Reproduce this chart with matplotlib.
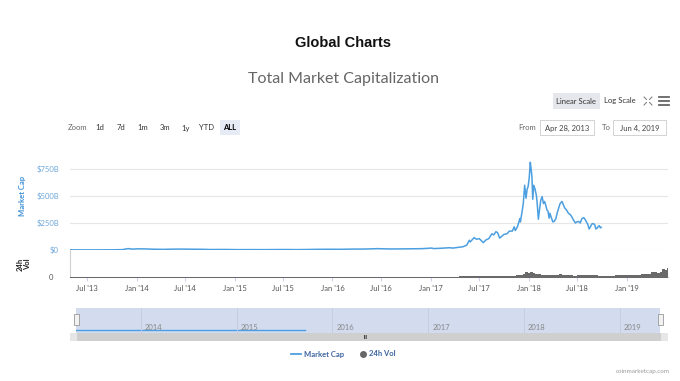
import numpy as np
import matplotlib
matplotlib.use("Agg")
from matplotlib import pyplot as plt
from matplotlib.patches import Rectangle
import matplotlib.dates as mdates

# market cap, billions USD
mcap_dates = [
    '2013-04-28', '2013-06-01', '2013-07-05', '2013-08-15', '2013-10-01',
    '2013-11-10', '2013-11-30', '2013-12-18', '2014-01-05', '2014-02-10',
    '2014-03-01', '2014-04-10', '2014-06-01', '2014-07-01', '2014-09-01',
    '2014-10-05', '2014-12-01', '2015-01-14', '2015-03-01', '2015-04-15',
    '2015-07-01', '2015-08-25', '2015-11-04', '2015-12-15', '2016-02-01',
    '2016-03-15', '2016-05-01', '2016-06-17', '2016-08-02', '2016-10-01',
    '2016-12-01', '2017-01-04', '2017-01-12', '2017-02-15', '2017-03-10',
    '2017-03-25', '2017-04-15', '2017-05-01', '2017-05-15', '2017-05-25',
    '2017-05-28', '2017-06-12', '2017-06-20', '2017-07-01', '2017-07-16',
    '2017-07-25', '2017-08-05', '2017-08-17', '2017-08-24', '2017-09-01',
    '2017-09-07', '2017-09-15', '2017-09-25', '2017-10-01', '2017-10-12',
    '2017-10-21', '2017-11-01', '2017-11-08', '2017-11-12', '2017-11-20',
    '2017-11-29', '2017-12-01', '2017-12-07', '2017-12-12', '2017-12-17',
    '2017-12-22', '2017-12-26', '2017-12-30', '2018-01-03', '2018-01-07',
    '2018-01-10', '2018-01-13', '2018-01-16', '2018-01-20', '2018-01-25',
    '2018-01-30', '2018-02-02', '2018-02-06', '2018-02-10', '2018-02-15',
    '2018-02-20', '2018-02-25', '2018-03-01', '2018-03-05', '2018-03-10',
    '2018-03-14', '2018-03-18', '2018-03-21', '2018-03-25', '2018-04-01',
    '2018-04-06', '2018-04-12', '2018-04-18', '2018-04-24', '2018-04-28',
    '2018-05-05', '2018-05-10', '2018-05-15', '2018-05-22', '2018-05-29',
    '2018-06-04', '2018-06-10', '2018-06-15', '2018-06-24', '2018-06-29',
    '2018-07-06', '2018-07-12', '2018-07-18', '2018-07-25', '2018-07-31',
    '2018-08-04', '2018-08-09', '2018-08-14', '2018-08-18', '2018-08-24',
    '2018-08-29', '2018-09-04', '2018-09-08', '2018-09-12', '2018-09-16',
    '2018-09-21', '2018-09-25', '2018-09-28',
]
mcap_values = [
    1.5, 1.4, 1.0, 1.3, 1.7,
    3.5, 13, 8, 11, 9.5,
    7.5, 6, 8.5, 8, 6.5,
    4.5, 5, 3.3, 3.8, 3.3,
    4.5, 3.6, 6.2, 6.8, 6.5,
    8.4, 8.8, 12.5, 9.5, 10.5,
    12.5, 18, 13, 17, 21,
    18, 25, 30, 45, 90,
    75, 115, 100, 105, 68,
    92, 105, 150, 140, 170,
    160, 110, 132, 145, 150,
    175, 175, 215, 180, 215,
    290, 260, 350, 435, 600,
    480, 560, 590, 670, 813,
    750, 680, 470, 600, 560,
    500, 420, 285, 370, 460,
    495, 430, 450, 420, 370,
    360, 295, 340, 310, 260,
    265, 290, 350, 400, 430,
    450, 420, 390, 370, 340,
    330, 310, 285, 250, 260,
    265, 250, 290, 300, 280,
    260, 240, 195, 210, 240,
    245, 235, 195, 200, 215,
    225, 205, 210,
]

# 24h volume, billions USD
vol_dates = [
    '2013-04-28', '2014-01-01', '2015-01-01', '2016-01-01', '2017-01-01',
    '2017-03-15', '2017-04-01', '2017-04-15', '2017-05-01', '2017-05-15',
    '2017-06-01', '2017-06-15', '2017-07-01', '2017-07-15', '2017-08-01',
    '2017-08-15', '2017-09-01', '2017-09-15', '2017-10-01', '2017-10-15',
    '2017-11-01', '2017-11-15', '2017-12-01', '2017-12-10', '2017-12-20',
    '2017-12-28', '2018-01-05', '2018-01-12', '2018-01-18', '2018-01-25',
    '2018-02-01', '2018-02-08', '2018-02-15', '2018-02-25', '2018-03-05',
    '2018-03-15', '2018-04-01', '2018-04-15', '2018-04-25', '2018-05-05',
    '2018-05-15', '2018-06-01', '2018-06-15', '2018-07-01', '2018-07-15',
    '2018-07-25', '2018-08-05', '2018-08-15', '2018-09-01', '2018-09-15',
    '2018-10-01', '2018-10-15', '2018-11-01', '2018-11-20', '2018-12-01',
    '2018-12-15', '2019-01-01', '2019-01-15', '2019-02-01', '2019-02-15',
    '2019-02-25', '2019-03-10', '2019-03-20', '2019-04-03', '2019-04-12',
    '2019-04-25', '2019-05-05', '2019-05-12', '2019-05-18', '2019-05-25',
    '2019-06-01', '2019-06-04',
]
vol_values = [
    0.05, 0.1, 0.05, 0.1, 0.3,
    0.6, 0.8, 1.0, 1.5, 2.5,
    4, 4.5, 3.5, 3, 4,
    6, 7, 6, 5, 7,
    9, 13, 20, 30, 45,
    38, 50, 42, 35, 28,
    24, 26, 18, 15, 14,
    13, 11, 14, 22, 20,
    14, 12, 10, 11, 12,
    18, 13, 11, 12, 10,
    9, 9, 10, 15, 13,
    12, 13, 13, 14, 18,
    25, 22, 24, 45, 42,
    40, 48, 75, 80, 65,
    90, 70,
]

y_ticks = [0, 250, 500, 750]
y_labels = ['$0', '$250B', '$500B', '$750B']
nav_years = ['2014', '2015', '2016', '2017', '2018', '2019']
zoom_buttons = ['1d', '7d', '1m', '3m', '1y', 'YTD', 'ALL']

W, H = 680, 381
BLUE = '#4c9fe0'
FONT = 'Lato'


def rect(x0, y0, x1, y1):
    return [x0 / W, 1 - y1 / H, (x1 - x0) / W, (y1 - y0) / H]


def txt(x, y, s, **kw):
    kw.setdefault('family', FONT)
    kw.setdefault('fontsize', 5.5)
    kw.setdefault('color', '#555555')
    kw.setdefault('va', 'center')
    fig.text(x / W, 1 - y / H, s, **kw)


def box(x0, y0, x1, y1, fc, ec='none', lw=0.6):
    fig.add_artist(Rectangle((x0 / W, 1 - y1 / H), (x1 - x0) / W, (y1 - y0) / H,
                             transform=fig.transFigure, fc=fc, ec=ec, lw=lw))


def line(xs, ys, color, lw=1.0, **kw):
    fig.add_artist(plt.Line2D([x / W for x in xs], [1 - y / H for y in ys],
                              transform=fig.transFigure, color=color, lw=lw, **kw))


mnum = mdates.date2num(np.array(mcap_dates, dtype='datetime64[D]'))
vnum = mdates.date2num(np.array(vol_dates, dtype='datetime64[D]'))
x_start = mdates.date2num(np.datetime64('2013-04-28'))
x_end = mdates.date2num(np.datetime64('2019-06-04'))

fig = plt.figure(figsize=(6.8, 3.81), dpi=100)

# titles
txt(343, 43, 'Global Charts', family='Liberation Sans', fontsize=10.5,
    weight='bold', color='#111111', ha='center')
txt(344, 79, 'Total Market Capitalization', fontsize=11.5, color='#666666',
    ha='center')

# scale buttons and icons
box(553, 93, 600, 109, '#e6e7ec')
txt(576, 101, 'Linear Scale', color='#333333', ha='center')
txt(620, 101, 'Log Scale', color='#333333', ha='center')
for yy in (97, 101, 105):
    line([659, 669], [yy, yy], '#666666', lw=1.3)
cx, cy = 648, 101
for sx, sy in ((-1, -1), (1, -1), (-1, 1), (1, 1)):
    line([cx + sx * 1.5, cx + sx * 4], [cy + sy * 1.5, cy + sy * 4],
         '#777777', lw=0.7)

# zoom row
txt(68, 128, 'Zoom', color='#666666')
zoom_x = [100, 121, 143, 165, 186, 207, 230]
for zx, lab in zip(zoom_x, zoom_buttons):
    if lab == 'ALL':
        box(220, 120, 240, 135, '#e6ebf5')
        txt(zx, 128, lab, weight='bold', color='#000000', ha='center')
    else:
        txt(zx, 128, lab, color='#333333', ha='center')

txt(527, 128, 'From', color='#666666', ha='center')
box(540, 120, 594, 135, 'white', ec='#cccccc')
txt(567, 128, 'Apr 28, 2013', color='#444444', ha='center')
txt(606, 128, 'To', color='#666666', ha='center')
box(613, 120, 666, 135, 'white', ec='#cccccc')
txt(640, 128, 'Jun 4, 2019', color='#444444', ha='center')

# main market cap panel
ax = fig.add_axes(rect(70, 155, 668, 250))
ax.plot(mnum, mcap_values, color=BLUE, lw=1.1)
ax.set_xlim(x_start, x_end)
ax.set_ylim(0, 880)
ax.set_yticks(y_ticks)
ax.set_yticklabels(y_labels, family=FONT, fontsize=5.5, color='#6fa8dc')
ax.tick_params(axis='y', length=0, pad=8)
ax.set_xticks([])
ax.grid(axis='y', color='#e6e6e6', lw=0.8)
for s in ax.spines.values():
    s.set_visible(False)
ax.patch.set_alpha(0)
txt(22, 196, 'Market Cap', color='#3d8fd6', weight='bold',
    rotation=90, ha='center')

# volume panel
axv = fig.add_axes(rect(70, 255, 668, 277))
axv.fill_between(vnum, vol_values, -10, step='post', color='#6a6a6a',
                 lw=0, zorder=3)
axv.set_xlim(x_start, x_end)
axv.set_ylim(-4, 215)
axv.set_yticks([0])
axv.set_yticklabels(['0'], family=FONT, fontsize=5.5, color='#555555')
axv.tick_params(axis='y', length=0, pad=12)
axv.xaxis.set_major_locator(mdates.MonthLocator(bymonth=[1, 7]))
axv.xaxis.set_major_formatter(mdates.DateFormatter("%b '%y"))
axv.tick_params(axis='x', length=3, color='#ccd6eb', pad=3, labelsize=5.5,
                labelcolor='#555555')
for lab in axv.get_xticklabels():
    lab.set_family(FONT)
for side in ('top', 'right'):
    axv.spines[side].set_visible(False)
axv.spines['left'].set_color('#d0d0d0')
axv.spines['left'].set_linewidth(0.8)
axv.spines['bottom'].set_color('#ccd6eb')
axv.spines['bottom'].set_linewidth(0.8)
line([70, 70], [250, 255], '#d0d0d0', lw=0.8)
txt(24, 264, '24h\nVol', color='#222222', weight='bold',
    rotation=90, ha='center', linespacing=1.0)

# navigator
axn = fig.add_axes(rect(76, 308, 660, 333))
axn.set_facecolor('#d3dbee')
nav_end = mdates.date2num(np.datetime64('2015-09-20'))
axn.plot([x_start, nav_end], [0.12, 0.12], color=BLUE, lw=1.0)
axn.set_xlim(x_start, x_end)
axn.set_ylim(0, 1)
for yr in nav_years:
    d = mdates.date2num(np.datetime64(yr + '-01-01'))
    axn.axvline(d, color='#c3cbe0', lw=0.6)
    axn.text(d + 15, 0.22, yr, family=FONT, fontsize=5.5,
             color='#888888', va='center')
axn.set_xticks([])
axn.set_yticks([])
for s in axn.spines.values():
    s.set_visible(False)

# navigator handles
for hx in (76, 660):
    box(hx - 2.5, 314, hx + 2.5, 325, '#f2f2f2', ec='#999999', lw=0.6)

# scrollbar
box(70, 333, 668, 341, '#cfcfcf')
box(70, 333, 77, 341, '#e6e6e6')
box(661, 333, 668, 341, '#e6e6e6')
txt(366, 337.5, 'III', fontsize=3.5, color='#333333', ha='center', weight='bold')

# legend
line([291, 301], [354, 354], BLUE, lw=1.3)
txt(304, 354, 'Market Cap', weight='bold', color='#3c64a0')
line([362.5], [354], '#666666', lw=0, marker='o', markersize=5,
     markeredgewidth=0)
txt(369, 354, '24h Vol', weight='bold', color='#3c64a0')

txt(670, 371, 'coinmarketcap.com', fontsize=4.5, color='#999999', ha='right')

fig.savefig('out.png', dpi=100)
